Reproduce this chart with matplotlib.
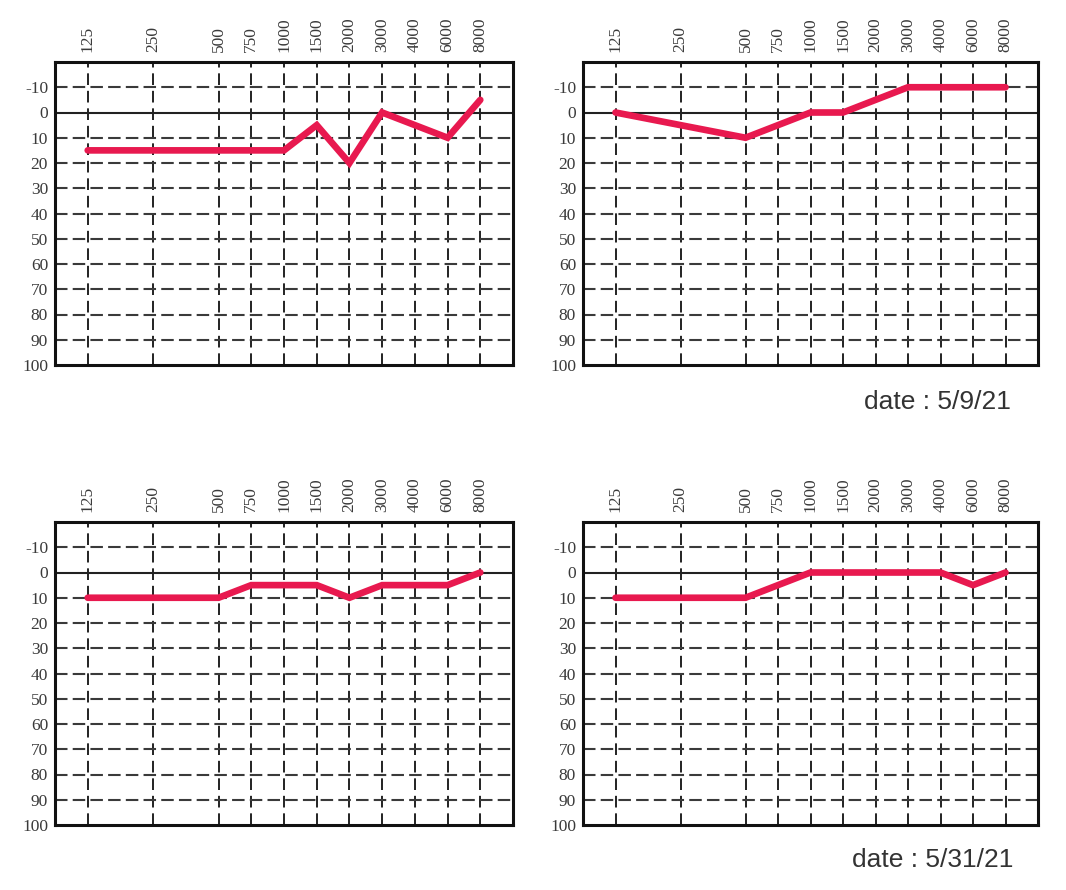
import numpy as np
import matplotlib
matplotlib.use("Agg")
import matplotlib.pyplot as plt

# frequencies on the audiogram (Hz) and their slot on the chart
freq_labels = ["125", "250", "500", "750", "1000", "1500", "2000", "3000", "4000", "6000", "8000"]
freq_slots = [0, 2, 4, 5, 6, 7, 8, 9, 10, 11, 12]

# hearing levels (dB), one list per panel
top_left = [15, 15, 15, 15, 15, 5, 20, 0, 5, 10, -5]
top_right = [0, 5, 10, 5, 0, 0, -5, -10, -10, -10, -10]
bottom_left = [10, 10, 10, 5, 5, 5, 10, 5, 5, 5, 0]
bottom_right = [10, 10, 10, 5, 0, 0, 0, 0, 0, 5, 0]

db_ticks = [-10, 0, 10, 20, 30, 40, 50, 60, 70, 80, 90, 100]
dates = ["date : 5/9/21", "date : 5/31/21"]

LINE_COLOR = "#e8194f"
W, H = 1066, 890

fig = plt.figure(figsize=(W / 100, H / 100), dpi=100)


def px_axes(left, top, right, bottom):
    return fig.add_axes([left / W, 1 - bottom / H, (right - left) / W, (bottom - top) / H])


def draw_panel(ax, levels):
    ax.set_xlim(-1, 13)
    ax.set_ylim(100, -20)
    for x in freq_slots:
        ax.axvline(x, color="#222222", lw=1.4, ls=(0, (6, 3)), zorder=1)
    for y in db_ticks[:-1]:
        if y == 0:
            ax.axhline(y, color="#222222", lw=1.5, zorder=1)
        else:
            ax.axhline(y, color="#3a3a3a", lw=1.5, ls=(0, (6, 2.5)), zorder=1)
    ax.plot(freq_slots, levels, color=LINE_COLOR, lw=4.8, solid_joinstyle="miter",
            solid_capstyle="round", zorder=3)
    ax.set_xticks(freq_slots)
    ax.set_xticklabels(freq_labels, rotation=90, family="Liberation Serif",
                       fontsize=12.5, color="#3a3a3a")
    ax.xaxis.tick_top()
    ax.set_yticks(db_ticks)
    ax.set_yticklabels([str(v) for v in db_ticks], family="Liberation Serif",
                       fontsize=12.5, color="#3a3a3a")
    ax.tick_params(axis="x", length=0, pad=7)
    ax.tick_params(axis="y", length=0, pad=5)
    for s in ax.spines.values():
        s.set_linewidth(2.2)
        s.set_color("#111111")


ax1 = px_axes(55, 62, 513, 365)
ax2 = px_axes(583, 62, 1038, 365)
ax3 = px_axes(55, 522, 513, 825)
ax4 = px_axes(583, 522, 1038, 825)

draw_panel(ax1, top_left)
draw_panel(ax2, top_right)
draw_panel(ax3, bottom_left)
draw_panel(ax4, bottom_right)

fig.text(1011 / W, 1 - 402 / H, dates[0], ha="right", va="center",
         family="Liberation Sans", fontsize=19, color="#333333")
fig.text(1013 / W, 1 - 860 / H, dates[1], ha="right", va="center",
         family="Liberation Sans", fontsize=19, color="#333333")

fig.savefig("out.png", dpi=100, facecolor="white")
